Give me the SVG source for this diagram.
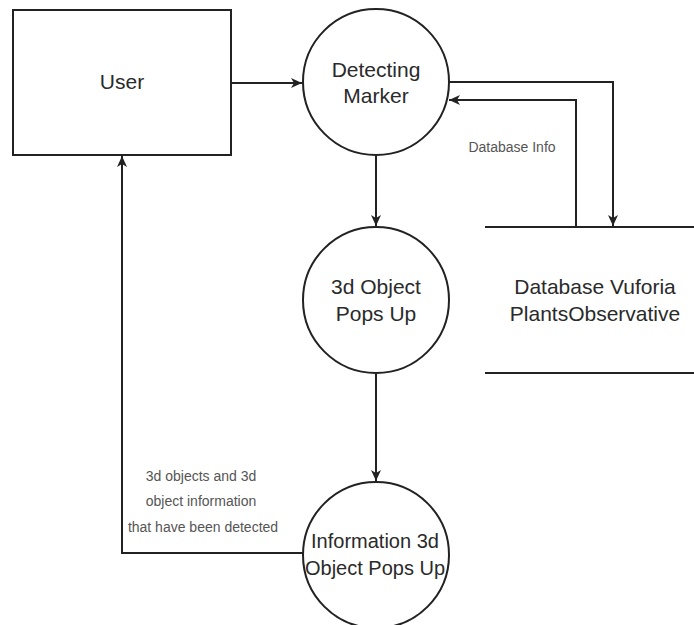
<svg xmlns="http://www.w3.org/2000/svg" width="694" height="625" viewBox="0 0 694 625">
<defs>
<style>
.shape{fill:#fff;stroke:#222;stroke-width:2}
.line{fill:none;stroke:#222;stroke-width:2}
.lbl{font-family:"Liberation Sans",Arial,sans-serif;font-size:21px;fill:#2a2a2a;text-anchor:middle}
.small{font-family:"Liberation Sans",Arial,sans-serif;font-size:14px;fill:#555;text-anchor:middle}
</style>
<marker id="arr" markerUnits="userSpaceOnUse" markerWidth="12" markerHeight="12" viewBox="0 0 12 12" refX="11" refY="6" orient="auto">
<path d="M0,1 L11,6 L0,11 L3,6 z" fill="#222"/>
</marker>
</defs>
<rect width="694" height="625" fill="#fff"/>
<g id="connectors">
<path class="line" d="M231,83 L302,83" marker-end="url(#arr)"/>
<path class="line" d="M449,82 L613,82 L613,226" marker-end="url(#arr)"/>
<path class="line" d="M576,227 L576,100 L449,100" marker-end="url(#arr)"/>
<path class="line" d="M376,155 L376,226" marker-end="url(#arr)"/>
<path class="line" d="M376,373 L376,481" marker-end="url(#arr)"/>
<path class="line" d="M303,553 L122,553 L122,156" marker-end="url(#arr)"/>
<text class="small" x="512" y="152">Database Info</text>
<text class="small" x="201" y="481">3d objects and 3d</text>
<text class="small" x="201" y="506">object information</text>
<text class="small" x="203" y="532">that have been detected</text>
</g>
<g id="user">
<rect class="shape" x="13" y="10" width="218" height="145"/>
<text class="lbl" x="122" y="89">User</text>
</g>
<g id="detecting-marker">
<circle class="shape" cx="376" cy="82" r="73"/>
<text class="lbl" x="376" y="77">Detecting</text>
<text class="lbl" x="376" y="103">Marker</text>
</g>
<g id="database">
<path class="line" d="M485,227 L694,227 M485,373 L694,373"/>
<text class="lbl" x="595" y="294">Database Vuforia</text>
<text class="lbl" x="595" y="321">PlantsObservative</text>
</g>
<g id="object-pops-up">
<circle class="shape" cx="376" cy="300" r="73"/>
<text class="lbl" x="376" y="294">3d Object</text>
<text class="lbl" x="376" y="321">Pops Up</text>
</g>
<g id="information-pops-up">
<circle class="shape" cx="376" cy="555" r="73"/>
<text class="lbl" x="375" y="548" style="font-size:20px">Information 3d</text>
<text class="lbl" x="375" y="575" style="font-size:20px">Object Pops Up</text>
</g>
</svg>
